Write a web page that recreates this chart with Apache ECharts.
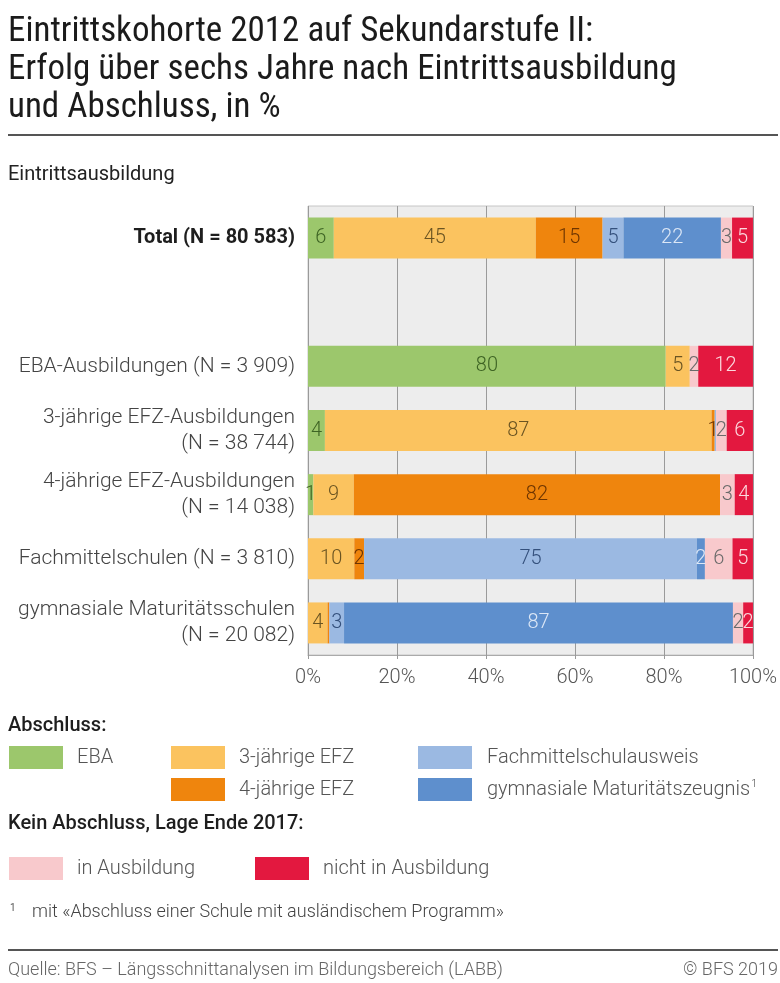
<!DOCTYPE html>
<html>
<head>
<meta charset="utf-8">
<script src="https://cdn.jsdelivr.net/npm/echarts@6/dist/echarts.min.js"></script>
<style>
html,body{margin:0;padding:0;background:#fff;}
#chart{width:780px;height:983px;}
</style>
</head>
<body>
<div id="chart"></div>
<script>
// ---- data ----
var categories = [
  'Total (N = 80 583)',
  '',
  'EBA-Ausbildungen (N = 3 909)',
  '3-jährige EFZ-Ausbildungen\n(N = 38 744)',
  '4-jährige EFZ-Ausbildungen\n(N = 14 038)',
  'Fachmittelschulen (N = 3 810)',
  'gymnasiale Maturitätsschulen\n(N = 20 082)'
];
var seriesNames = ['EBA', '3-jährige EFZ', '4-jährige EFZ', 'Fachmittelschulausweis',
  'gymnasiale Maturitätszeugnis', 'in Ausbildung', 'nicht in Ausbildung'];
// values per row: Total, (gap), EBA, 3-j EFZ, 4-j EFZ, FMS, Gymnasium
var valEBA   = [5.8, null, 80.4, 3.8, 1.2, 0, 0];
var valEFZ3  = [45.4, null, 5.4, 86.9, 9.1, 10.4, 4.4];
var valEFZ4  = [15.0, null, 0, 0.7, 82.3, 2.2, 0.4];
var valFMS   = [4.7, null, 0, 0.3, 0, 74.8, 3.3];
var valGYM   = [21.9, null, 0, 0, 0, 1.8, 87.4];
var valInAus = [2.5, null, 1.9, 2.4, 3.3, 6.2, 2.3];
var valNicht = [4.7, null, 12.3, 5.9, 4.1, 4.6, 2.2];
var xTicks = [0, 20, 40, 60, 80, 100];

var colors = ['#9cc76c', '#fbc35f', '#ef850d', '#9bb9e2', '#5e8fcd', '#f8c9cc', '#e3183f'];
var labelColors = ['#3e6424', '#6a5422', '#6e3500', '#34507c', '#dce7f6', '#6a6a6a', '#fbd9de'];
var allValues = [valEBA, valEFZ3, valEFZ4, valFMS, valGYM, valInAus, valNicht];

var COND = "'Roboto Condensed','Liberation Sans Narrow',Roboto,sans-serif";
var REG = "Roboto,'Noto Sans',sans-serif";

var chart = echarts.init(document.getElementById('chart'), null, {renderer: 'canvas'});

var series = allValues.map(function (vals, i) {
  return {
    name: seriesNames[i],
    type: 'bar',
    stack: 'all',
    barWidth: 41,
    data: vals,
    itemStyle: {color: colors[i]},
    label: {
      show: true,
      position: 'inside',
      color: labelColors[i],
      fontFamily: REG,
      fontSize: 20,
      fontWeight: 300,
      formatter: function (p) {
        var v = p.value;
        if (v == null || v < 0.5) return '';
        return String(Math.round(v));
      }
    },
    emphasis: {disabled: true}
  };
});

function legendBlock(left, top, data, orient, pad) {
  return {
    left: left, top: top, orient: orient || 'horizontal',
    padding: 0,
    data: data,
    icon: 'rect',
    itemWidth: 54, itemHeight: 23, itemGap: 9,
    selectedMode: false,
    textStyle: {
      fontFamily: REG, fontSize: 20, fontWeight: 300, color: '#555', lineHeight: 23,
      padding: [0, 0, 0, pad],
      rich: {sup: {fontSize: 11, color: '#555', fontFamily: REG, padding: [0, 0, 10, 1], lineHeight: 23}}
    },
    formatter: function (name) {
      if (name === 'gymnasiale Maturitätszeugnis') return name + '{sup|1}';
      return name;
    }
  };
}

var option = {
  animation: false,
  backgroundColor: '#ffffff',
  grid: {
    left: 308, right: 25, top: 206, height: 449,
    show: true, backgroundColor: '#ededed', borderColor: '#c6c6c6', borderWidth: 1,
    containLabel: false
  },
  xAxis: {
    type: 'value', min: 0, max: 100, interval: 20,
    axisLine: {show: true, lineStyle: {color: '#aaa'}},
    axisTick: {show: true, length: 4, lineStyle: {color: '#999'}},
    splitLine: {show: true, lineStyle: {color: '#9a9a9a', width: 1}},
    axisLabel: {
      color: '#555', fontFamily: REG, fontSize: 20, fontWeight: 300, margin: 13,
      formatter: function (v) { return v + '%'; }
    }
  },
  yAxis: {
    type: 'category', inverse: true, data: categories,
    axisLine: {show: false}, axisTick: {show: false},
    axisLabel: {
      margin: 13, color: '#444', fontFamily: REG, fontSize: 21, fontWeight: 300,
      lineHeight: 26, align: 'right',
      formatter: function (v) {
        if (v.indexOf('Total') === 0) return '{b|' + v + '}';
        return v;
      },
      rich: {b: {fontWeight: 'bold', color: '#1e1e1e', fontFamily: REG, fontSize: 20}}
    }
  },
  legend: [
    legendBlock(9, 746, ['EBA'], 'horizontal', 9),
    legendBlock(171, 746, ['3-jährige EFZ', '4-jährige EFZ'], 'vertical', 9),
    legendBlock(418, 746, ['Fachmittelschulausweis', 'gymnasiale Maturitätszeugnis'], 'vertical', 10),
    legendBlock(9, 857, ['in Ausbildung'], 'horizontal', 9),
    legendBlock(255, 857, ['nicht in Ausbildung'], 'horizontal', 9)
  ],
  series: series,
  graphic: [
    {type: 'text', left: 8, top: 13, style: {
      text: 'Eintrittskohorte 2012 auf Sekundarstufe II:\nErfolg über sechs Jahre nach Eintrittsausbildung\nund Abschluss, in %',
      font: '400 35px ' + COND, fill: '#1b1b1b', lineHeight: 38}},
    {type: 'line', shape: {x1: 8, y1: 135, x2: 778, y2: 135}, style: {stroke: '#555', lineWidth: 2}},
    {type: 'text', left: 8, top: 165, style: {text: 'Eintrittsausbildung', font: '400 20px ' + REG, fill: '#222'}},
    {type: 'text', left: 8, top: 716, style: {text: 'Abschluss:', font: '500 20px ' + REG, fill: '#1e1e1e'}},
    {type: 'text', left: 8, top: 814, style: {text: 'Kein Abschluss, Lage Ende 2017:', font: '500 20px ' + REG, fill: '#1e1e1e'}},
    {type: 'text', left: 10, top: 903, style: {text: '1', font: '400 10px ' + REG, fill: '#555'}},
    {type: 'text', left: 32, top: 903, style: {text: 'mit «Abschluss einer Schule mit ausländischem Programm»', font: '300 18px ' + REG, fill: '#444'}},
    {type: 'line', shape: {x1: 8, y1: 950, x2: 778, y2: 950}, style: {stroke: '#555', lineWidth: 2}},
    {type: 'text', left: 8, top: 961, style: {text: 'Quelle: BFS – Längsschnittanalysen im Bildungsbereich (LABB)', font: '300 18px ' + REG, fill: '#666'}},
    {type: 'text', right: 2, top: 961, style: {text: '© BFS 2019', font: '300 18px ' + REG, fill: '#666'}}
  ]
};
chart.setOption(option);
</script>
</body>
</html>
